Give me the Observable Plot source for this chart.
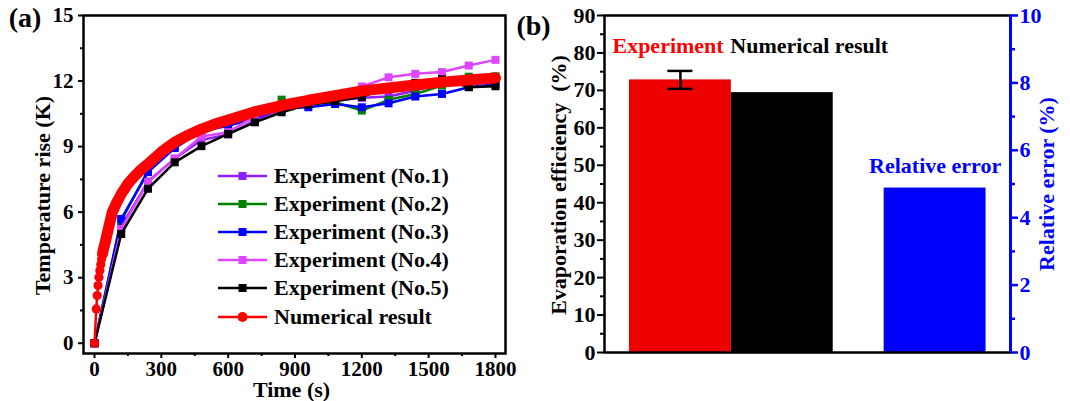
<!DOCTYPE html>
<html><head><meta charset="utf-8">
<script src="https://cdn.jsdelivr.net/npm/d3@7"></script>
<script src="https://cdn.jsdelivr.net/npm/@observablehq/plot@0.6"></script>
<style>
html,body{margin:0;padding:0;background:#fff;}
#wrap{position:relative;width:1070px;height:401px;overflow:hidden;font-family:"Liberation Serif","Times New Roman",serif;font-weight:bold;background:#fff;}
#left{position:absolute;left:0;top:0;width:530px;height:401px;z-index:1;}
#right{position:absolute;left:510px;top:0;width:560px;height:401px;z-index:2;}
#legend{position:absolute;left:218px;top:161.6px;z-index:3;}
.row{display:flex;align-items:center;height:28.2px;}
.row svg{display:block;}
.row span{font-size:22px;margin-left:7px;line-height:28.2px;white-space:pre;}
</style></head><body>
<div id="wrap"><div id="left"></div><div id="right"></div><div id="legend"></div></div>
<script>
// ---------- data: panel (a) ----------
const times = [0,120,240,360,480,600,720,840,960,1080,1200,1320,1440,1560,1680,1800];
const exp1 = [0,5.35,7.40,8.45,9.30,9.55,10.20,10.70,10.95,11.10,11.23,11.29,11.56,11.90,12.00,12.10];
const exp2 = [0,5.60,7.90,9.00,9.80,10.10,10.35,11.15,10.95,11.03,10.65,11.14,11.41,11.79,12.20,12.22];
const exp3 = [0,5.69,7.83,8.93,9.70,9.95,10.30,10.75,10.80,10.95,10.80,10.98,11.29,11.41,11.72,11.85];
const exp4 = [0,5.23,7.37,8.44,9.46,9.66,10.38,10.80,11.00,11.20,11.75,12.17,12.33,12.41,12.71,12.97];
const exp5 = [0,5.00,7.07,8.28,9.02,9.58,10.11,10.57,10.92,11.08,11.28,11.70,11.92,12.08,11.72,11.76];
const numTimes = [0,8,12,16,20,24,28,32,36,40,50,60,80,100,120,150,180,210,240,300,360,420,480,540,600,720,840,960,1080,1200,1320,1440,1560,1680,1800];
const numValues = [0,1.57,2.18,2.64,3.02,3.33,3.60,3.86,4.09,4.30,4.69,5.15,6.00,6.45,6.83,7.30,7.65,7.95,8.20,8.75,9.20,9.52,9.80,10.03,10.22,10.60,10.88,11.12,11.33,11.55,11.68,11.82,11.95,12.05,12.14];
const seriesNames = ["Experiment (No.1)","Experiment (No.2)","Experiment (No.3)","Experiment (No.4)","Experiment (No.5)","Numerical result"];
const seriesColors = ["#8f1fff","#008000","#0000ff","#dd45ff","#000000","#ff0000"];
const xTicksA = [0,300,600,900,1200,1500,1800];
const yTicksA = [0,3,6,9,12,15];

// ---------- data: panel (b) ----------
const barCats = ["Experiment","Numerical result","Relative error"];
const barValues = [72.8, 69.4, 4.88];
const barAxis = ["left","left","right"];
const barColors = ["#ee0000","#000000","#0000ff"];
const expError = 2.4;
const leftTicksB = [0,10,20,30,40,50,60,70,80,90];
const rightTicksB = [0,2,4,6,8,10];

const mid = arr => d3.pairs(arr).map(([a,b]) => (a+b)/2);
const FONT = "'Liberation Serif','Times New Roman',serif";
const T = {fontWeight:"bold", textAnchor:"middle", lineAnchor:"middle"};

// ---------- panel (a) ----------
const expValues = [exp1,exp2,exp3,exp4,exp5];
const num = numTimes.map((t,i) => ({t, v: numValues[i]}));
const expMarks = expValues.flatMap((vals,i) => {
  const rows = times.map((t,j) => ({t, v: vals[j]}));
  return [
    Plot.line(rows, {x:"t", y:"v", stroke: seriesColors[i], strokeWidth: 2.5}),
    Plot.dot(rows, {x:"t", y:"v", symbol:"square", r:4.5, fill: seriesColors[i], stroke:"none"})
  ];
});
const left = Plot.plot({
  width:530, height:401, marginLeft:83, marginRight:25, marginTop:15, marginBottom:48,
  style:{fontFamily:FONT, fontWeight:"bold", fontSize:"21px", color:"black", background:"white", overflow:"visible"},
  x:{domain:[-49.4,1845]},
  y:{domain:[-0.47,15]},
  marks:[
    ...expMarks,
    Plot.line(num, {x:"t", y:"v", stroke:seriesColors[5], strokeWidth:2.5}),
    Plot.line(num.filter(d => d.t >= 36), {x:"t", y:"v", stroke:seriesColors[5], strokeWidth:11, strokeLinejoin:"round", strokeLinecap:"round"}),
    Plot.dot(num, {x:"t", y:"v", r:4.6, fill:seriesColors[5], stroke:"none"}),
    Plot.frame({strokeWidth:2.5}),
    Plot.axisX({ticks:xTicksA, tickFormat:d=>String(d), tickSize:5, tickPadding:3, strokeWidth:2, label:null, fontSize:21, fontWeight:"bold"}),
    Plot.axisX({ticks:mid(xTicksA), tickSize:3, strokeWidth:2, fill:"none", label:null}),
    Plot.axisY({ticks:yTicksA, tickFormat:d=>String(d), tickSize:5, tickPadding:5, strokeWidth:2, label:null, fontSize:21, fontWeight:"bold"}),
    Plot.axisY({ticks:mid(yTicksA), tickSize:3, strokeWidth:2, fill:"none", label:null}),
    Plot.text(["Time (s)"], {...T, text:d=>d, frameAnchor:"bottom", dx:-3, dy:36, fontSize:22}),
    Plot.text(["Temperature rise (K)"], {...T, text:d=>d, frameAnchor:"left", dx:-41, dy:11, rotate:-90, fontSize:22}),
    Plot.text(["(a)"], {...T, text:d=>d, frameAnchor:"top-left", dx:-58.5, dy:3, fontSize:28})
  ]
});
document.getElementById("left").appendChild(left);

// legend for panel (a)
const legend = document.getElementById("legend");
seriesNames.forEach((name,i) => {
  const c = seriesColors[i];
  const marker = i < 5
    ? `<rect x="20.5" y="10" width="8" height="8" fill="${c}"/>`
    : `<circle cx="24.5" cy="14" r="5" fill="${c}"/>`;
  const row = document.createElement("div");
  row.className = "row";
  row.innerHTML = `<svg width="49" height="28"><line x1="0" y1="14" x2="49" y2="14" stroke="${c}" stroke-width="2.5"/>${marker}</svg><span>${name}</span>`;
  legend.appendChild(row);
});

// ---------- panel (b) ----------
const ratio = 90 / 10; // left-axis units per right-axis unit
const bars = barCats.map((cat,i) => ({
  cat, value: barValues[i], axis: barAxis[i], color: barColors[i],
  slot: i + (barAxis[i] === "right" ? 0.5 : 0)
}));
const yOf = d => d.axis === "right" ? d.value * ratio : d.value;
const xMaxB = 3.74;
const errRow = [bars[0]];
const right = Plot.plot({
  width:560, height:401, marginLeft:94, marginRight:60, marginTop:15, marginBottom:49,
  style:{fontFamily:FONT, fontWeight:"bold", fontSize:"22px", color:"black", background:"transparent", overflow:"visible"},
  x:{domain:[-0.245, xMaxB], axis:null},
  y:{domain:[0,90]},
  color:{type:"identity"},
  marks:[
    Plot.rectY(bars, {x1:"slot", x2:d=>d.slot+1, y1:0, y2:yOf, fill:"color"}),
    Plot.ruleX(errRow, {x:d=>d.slot+0.5, y1:d=>d.value-expError, y2:d=>d.value+expError, stroke:"black", strokeWidth:2.5}),
    Plot.ruleY(errRow, {y:d=>d.value+expError, x1:d=>d.slot+0.5-0.123, x2:d=>d.slot+0.5+0.123, stroke:"black", strokeWidth:2.5}),
    Plot.ruleY(errRow, {y:d=>d.value-expError, x1:d=>d.slot+0.5-0.123, x2:d=>d.slot+0.5+0.123, stroke:"black", strokeWidth:2.5}),
    Plot.frame({strokeWidth:2.5}),
    Plot.ruleX([xMaxB], {stroke:"#0000ff", strokeWidth:3}),
    Plot.axisY({ticks:leftTicksB, tickSize:7, tickPadding:2, strokeWidth:2, label:null, fontSize:22, fontWeight:"bold"}),
    Plot.axisY({ticks:mid(leftTicksB), tickSize:4, strokeWidth:2, fill:"none", label:null}),
    Plot.axisY({anchor:"right", ticks:rightTicksB.map(d=>d*ratio), tickFormat:d=>String(Math.round(d/ratio)), tickSize:7, tickPadding:2, strokeWidth:2.5, color:"#0000ff", label:null, fontSize:22, fontWeight:"bold"}),
    Plot.axisY({anchor:"right", ticks:mid(rightTicksB).map(d=>d*ratio), tickSize:4, strokeWidth:2.5, stroke:"#0000ff", fill:"none", label:null}),
    Plot.text(bars.filter(d=>d.cat==="Experiment"), {...T, x:"slot", text:"cat", frameAnchor:"top", textAnchor:"start", dx:-17, dy:30.5, fill:"#ff0000", fontSize:22}),
    Plot.text(bars.filter(d=>d.cat==="Numerical result"), {...T, x:"slot", text:"cat", frameAnchor:"top", textAnchor:"start", dx:-1, dy:30.5, fill:"#000000", fontSize:22}),
    Plot.text(bars.filter(d=>d.axis==="right"), {...T, x:d=>d.slot+0.5, y:yOf, text:"cat", dy:-22, fill:"#0000ff", fontSize:22}),
    Plot.text(["Evaporation efficiency  (%)"], {...T, text:d=>d, frameAnchor:"left", dx:-46, dy:1, rotate:-90, fontSize:22}),
    Plot.text(["Relative error (%)"], {...T, text:d=>d, frameAnchor:"right", dx:36, dy:0, rotate:-90, fill:"#0000ff", fontSize:22}),
    Plot.text(["(b)"], {...T, text:d=>d, frameAnchor:"top-left", dx:-71, dy:11, fontSize:28})
  ]
});
document.getElementById("right").appendChild(right);
</script>
</body></html>
